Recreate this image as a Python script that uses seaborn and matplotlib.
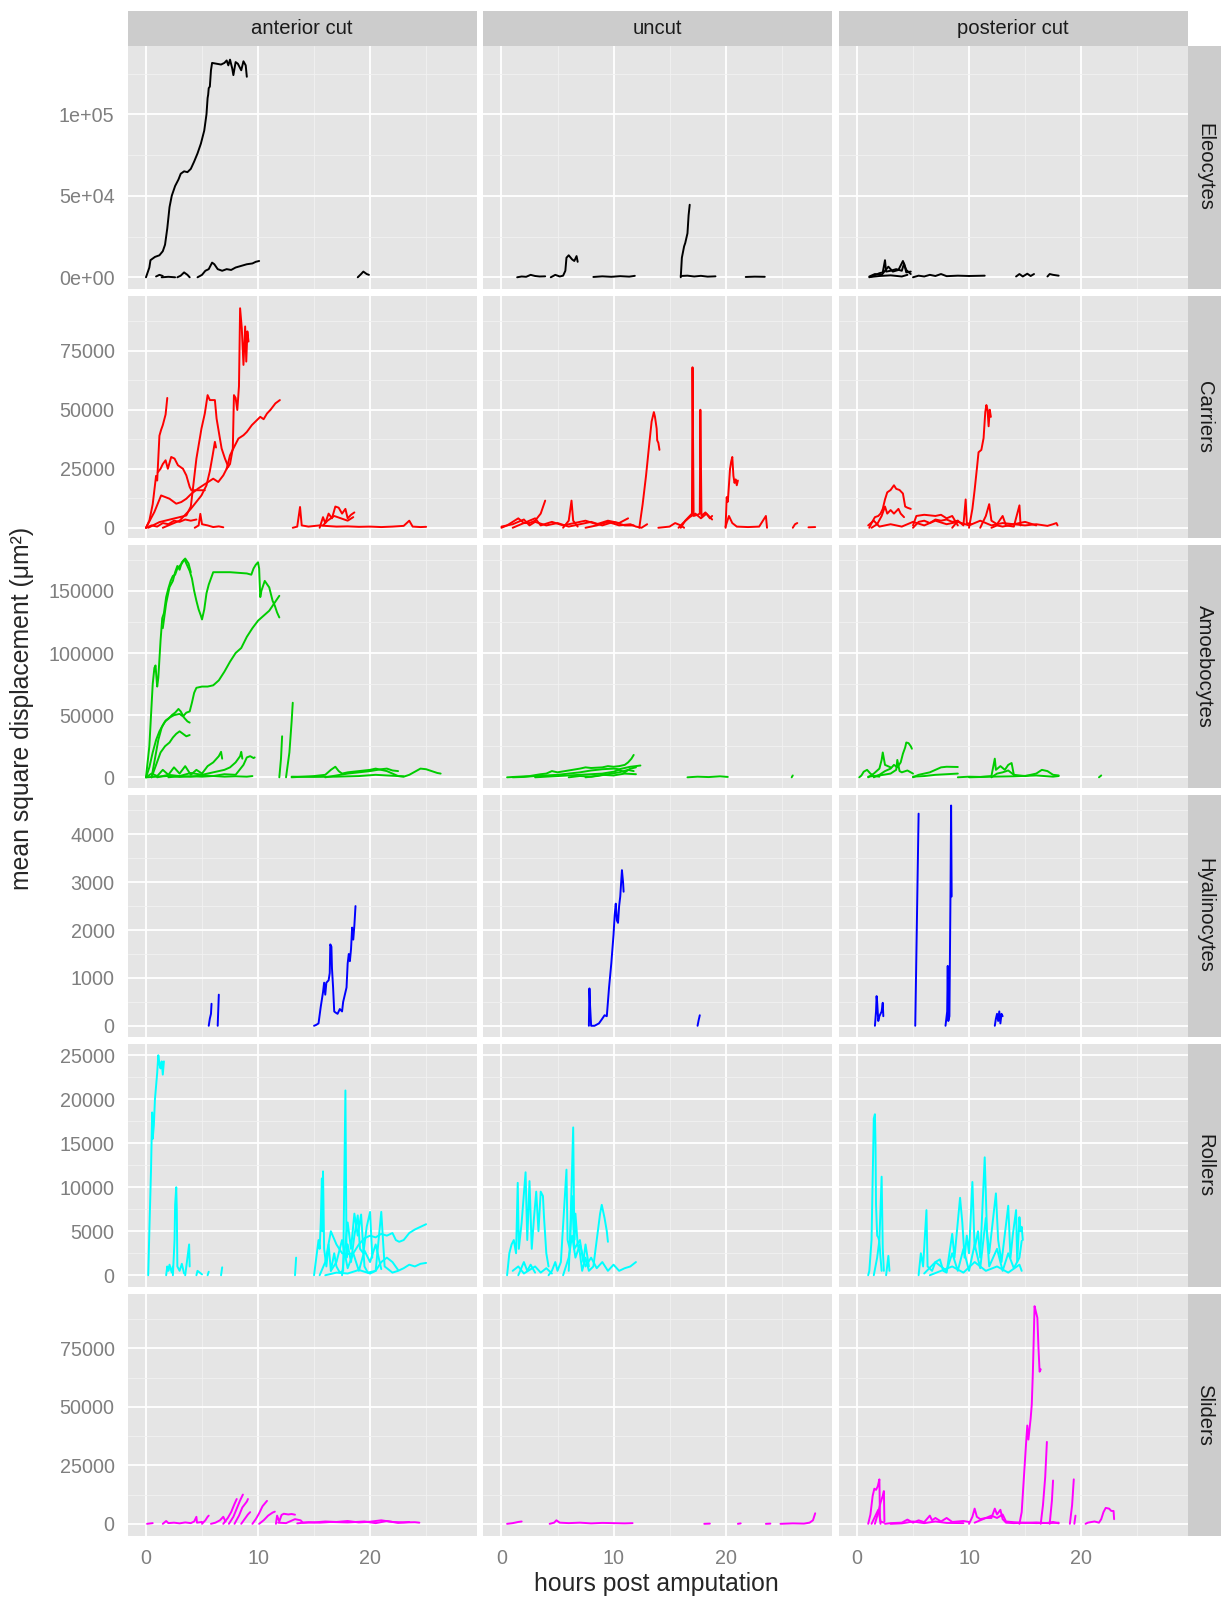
import pandas as pd
import matplotlib
matplotlib.use("Agg")
import matplotlib.pyplot as plt
import seaborn as sns

conditions = ["anterior cut", "uncut", "posterior cut"]
cell_types = ["Eleocytes", "Carriers", "Amoebocytes", "Hyalinocytes", "Rollers", "Sliders"]
line_colors = ["black", "red", "#00CD00", "blue", "cyan", "magenta"]

x_ticks = [0, 10, 20]
x_minor = [5, 15, 25]
x_limits = (-1.65, 29.5)

y_ticks = [
    [0, 50000, 100000],
    [0, 25000, 50000, 75000],
    [0, 50000, 100000, 150000],
    [0, 1000, 2000, 3000, 4000],
    [0, 5000, 10000, 15000, 20000, 25000],
    [0, 25000, 50000, 75000],
]
y_tick_labels = [
    ["0e+00", "5e+04", "1e+05"],
    ["0", "25000", "50000", "75000"],
    ["0", "50000", "100000", "150000"],
    ["0", "1000", "2000", "3000", "4000"],
    ["0", "5000", "10000", "15000", "20000", "25000"],
    ["0", "25000", "50000", "75000"],
]
y_limits = [
    (-6875, 141875),
    (-4335, 98410),
    (-8197, 186885),
    (-234, 4830),
    (-1279, 26279),
    (-5202, 98410),
]

# ---- tracks: lists of (hours, msd) per panel ----
eleo_anterior = [
    [(0, 0), (0.3, 6000), (0.4, 10500), (0.8, 12500), (1.2, 13500), (1.5, 16000), (1.7, 20000),
     (1.9, 30000), (2.1, 43000), (2.3, 50000), (2.6, 56000), (2.9, 60000), (3.1, 63500), (3.4, 65000),
     (3.7, 64500), (4.0, 66500), (4.3, 71000), (4.6, 76000), (4.9, 82000), (5.2, 90000), (5.4, 100000),
     (5.5, 110000), (5.55, 112000), (5.6, 116000), (5.7, 117000), (5.8, 127000), (5.9, 131500),
     (6.3, 131000), (6.7, 130500), (7.0, 131500), (7.2, 133000), (7.35, 130000), (7.5, 133500),
     (7.7, 128000), (7.8, 124000), (8.0, 132000), (8.2, 131000), (8.5, 127000), (8.7, 132500),
     (8.9, 130000), (9.0, 123000)],
    [(4.6, 0), (5.0, 1500), (5.3, 4000), (5.6, 5000), (5.9, 9000), (6.1, 8000), (6.4, 5000), (6.8, 4000),
     (7.2, 5000), (7.6, 4500), (8.0, 6000), (8.5, 7000), (9.0, 8000), (9.5, 8500), (9.8, 9500), (10.1, 10000)],
    [(0.9, 500), (1.2, 1500), (1.5, 800)],
    [(2.8, 0), (3.1, 1000), (3.4, 3000), (3.7, 1500), (3.9, 0)],
    [(1.4, 0), (2.0, 300), (2.6, 0)],
    [(18.9, 0), (19.2, 2000), (19.4, 3500), (19.7, 2000), (19.9, 1500)],
]
eleo_uncut = [
    [(1.4, 0), (1.8, 500), (2.2, 300), (2.6, 1500), (3.0, 800), (3.4, 500), (3.9, 600)],
    [(4.4, 0), (4.8, 1500), (5.2, 500), (5.5, 1000), (5.7, 4000), (5.8, 12000), (6.0, 13500), (6.3, 11000),
     (6.5, 10000), (6.7, 13000), (6.8, 9500)],
    [(8.2, 200), (9.0, 600), (9.8, 300), (10.6, 700), (11.4, 400), (11.9, 900)],
    [(16.0, 0), (16.1, 12000), (16.3, 19000), (16.4, 21000), (16.6, 27000), (16.7, 38000), (16.8, 44500)],
    [(16.0, 800), (16.6, 1000), (17.2, 500), (17.8, 900), (18.4, 400), (19.1, 600)],
    [(21.8, 200), (22.6, 400), (23.5, 300)],
]
eleo_posterior = [
    [(1.1, 0), (1.5, 1000), (2.0, 2500), (2.3, 3000), (2.5, 10500), (2.6, 3500), (3.0, 4000), (3.5, 5000),
     (4.0, 4000), (4.2, 8500), (4.4, 3000), (4.8, 3500)],
    [(1.1, 500), (1.6, 2000), (2.2, 1500), (2.8, 6500), (3.2, 3500), (3.7, 4500), (4.1, 10000), (4.4, 4500),
     (4.8, 2000)],
    [(1.2, 200), (2.0, 800), (3.0, 1200), (4.0, 500), (4.5, 1500)],
    [(5.0, 0), (5.5, 1000), (6.0, 500), (6.5, 1500), (7.0, 800), (7.5, 2000), (8.0, 700), (9.0, 1000),
     (10.0, 800), (11.4, 1000)],
    [(14.2, 500), (14.5, 2000), (14.8, 500), (15.2, 2200), (15.5, 800), (15.8, 2000)],
    [(17.0, 500), (17.2, 2000), (17.5, 1500), (18.0, 1000)],
]

carr_anterior = [
    [(0, 0), (0.3, 3000), (0.6, 10000), (0.9, 22000), (1.0, 20000), (1.2, 39000), (1.35, 41500),
     (1.5, 43500), (1.75, 48000), (1.9, 55000)],
    [(1.05, 23500), (1.3, 25000), (1.5, 27000), (1.75, 28600), (1.95, 25000), (2.25, 30000), (2.55, 29300),
     (2.85, 26500), (3.3, 25000), (3.6, 22200), (3.9, 17300), (4.05, 15900), (4.6, 15900), (5.25, 15900)],
    [(0, 0), (0.75, 6700), (1.35, 13700), (2.1, 12300), (2.7, 10200), (3.15, 10900), (3.6, 12300),
     (4.05, 14400), (4.65, 16600), (5.1, 18000), (5.55, 19400), (6.0, 20800), (6.45, 19400), (6.9, 22200),
     (7.2, 25000), (7.5, 30700), (7.8, 33600), (8.25, 37800), (8.7, 39200), (9.0, 40600), (9.45, 43500),
     (9.75, 44900), (10.2, 47000), (10.5, 46000), (10.8, 48400), (11.1, 49900), (11.55, 52700),
     (11.95, 54100)],
    [(0.2, 0), (1.2, 2400), (2.4, 3800), (3.6, 5200), (4.0, 9000), (4.2, 17000), (4.5, 29300),
     (4.95, 42000), (5.25, 48400), (5.5, 56200), (5.7, 54100), (6.15, 54100), (6.3, 46300), (6.55, 39200),
     (6.75, 33600), (7.05, 29300), (7.35, 25800)],
    [(1.5, 0), (3.0, 3000), (4.0, 8000), (4.95, 13700), (5.4, 18000), (5.7, 24000), (5.95, 30700),
     (6.15, 36400), (6.25, 34000)],
    [(7.2, 25000), (7.5, 27000), (7.75, 33600), (7.85, 56200), (8.0, 55000), (8.15, 49900), (8.3, 60000),
     (8.4, 93000), (8.55, 84600), (8.7, 69000), (8.85, 85300), (8.95, 70400), (9.05, 83200), (9.15, 78900)],
    [(0, 0), (0.5, 1000), (1.0, 500), (1.5, 2000), (2.0, 1500), (2.5, 3000), (3.0, 2500), (3.5, 3500),
     (4.0, 3000), (4.5, 3500)],
    [(4.35, 0), (4.7, 1000), (4.85, 5900), (5.0, 1500), (5.5, 1000), (6.0, 300), (6.5, 600), (6.9, 200)],
    [(13.1, 0), (13.5, 500), (13.75, 8800), (13.9, 1000), (14.5, 500), (15.5, 1000), (16.0, 800), (17.0, 500),
     (18.0, 600), (19.0, 400), (20.0, 500), (21.0, 300), (22.0, 500), (23.0, 800), (23.5, 3000), (23.8, 500),
     (24.5, 300), (25.0, 400)],
    [(15.5, 0), (15.8, 4500), (16.0, 2000), (16.3, 6000), (16.6, 4000), (16.9, 9000), (17.2, 8500),
     (17.5, 6000), (17.8, 8000), (18.0, 4000), (18.3, 5500), (18.6, 6500)],
    [(15.8, 1000), (16.2, 3000), (16.8, 5000), (17.4, 4000), (18.0, 3000), (18.5, 4500)],
]
carr_uncut = [
    [(0, 0), (0.5, 1000), (1.0, 2500), (1.5, 4000), (2.0, 2000), (2.5, 2000), (3.0, 3000), (3.5, 6000),
     (3.9, 11500)],
    [(5.5, 0), (6.0, 3000), (6.25, 11500), (6.4, 3000), (6.8, 500)],
    [(0, 500), (1, 1500), (2, 3500), (2.5, 1000), (3, 2500), (4, 1000), (5, 2000), (6, 500), (7, 1500),
     (8, 2500), (9, 1000), (10, 2500), (11, 1000), (11.8, 1000)],
    [(1, 0), (2, 2000), (3, 4000), (3.5, 1000), (4.5, 2500), (5.5, 1000), (6.5, 2000), (7.5, 3000),
     (8.5, 1500), (9.5, 3000), (10.5, 2000), (11.3, 4000)],
    [(7.5, 0), (8.5, 1000), (9.5, 2500), (10.5, 1000), (11.5, 1500), (12.0, 500), (12.5, 0), (13.0, 1500)],
    [(12.3, 0), (12.6, 10000), (12.9, 22000), (13.2, 36000), (13.4, 45000), (13.6, 49000), (13.7, 47000),
     (13.85, 42000), (13.9, 37000), (14.0, 36000), (14.1, 33000)],
    [(14.0, 0), (15.0, 500), (15.5, 2000), (16.0, 1000), (16.3, 0)],
    [(16.0, 0), (16.4, 3000), (16.8, 5000), (17.0, 6000), (17.05, 68000), (17.15, 5000), (17.5, 5500),
     (17.7, 6000), (17.75, 50000), (17.85, 5000), (18.2, 6500), (18.6, 4000), (18.8, 5000)],
    [(15.8, 0), (16.2, 2000), (16.8, 4500), (17.3, 6000), (17.8, 4000), (18.3, 6000), (18.8, 3500)],
    [(20.0, 0), (20.1, 13000), (20.2, 11000), (20.4, 25000), (20.5, 28000), (20.6, 30000), (20.7, 22000),
     (20.8, 19000), (20.9, 20500), (21.0, 18000), (21.1, 20000)],
    [(20.0, 500), (20.3, 5000), (20.6, 2000), (21.0, 500), (22.0, 300), (23.0, 500), (23.6, 5000),
     (23.7, 0)],
    [(26.0, 0), (26.2, 1500), (26.4, 2000)],
    [(27.4, 200), (28.0, 300)],
]
carr_posterior = [
    [(1.1, 0), (1.3, 2000), (1.6, 4500), (1.9, 5000), (2.1, 6000), (2.3, 8000), (2.5, 12000), (2.7, 15000),
     (3.0, 16000), (3.3, 18000), (3.5, 16500), (3.8, 16000), (4.1, 14500), (4.3, 9000), (4.5, 8500),
     (4.8, 8000)],
    [(1.3, 0), (1.8, 1500), (2.2, 5000), (2.5, 9000), (2.7, 6000), (3.0, 7500), (3.3, 6000), (3.7, 8000),
     (3.9, 6000), (4.2, 4500)],
    [(1.0, 1000), (1.5, 3000), (2, 500), (3, 1500), (4, 500), (5, 2500), (6, 1000), (7, 3000), (8, 1500),
     (9, 2500), (10, 1000), (11, 3000), (12, 1000), (13, 2000), (14, 1500), (15, 2500), (16, 1000)],
    [(5.0, 1000), (5.3, 5000), (6, 5500), (7, 5000), (7.5, 5500), (8, 4000), (8.5, 5000), (9, 1000)],
    [(5.0, 0), (5.5, 2500), (6.0, 3000), (6.5, 2000), (7.0, 3500), (7.5, 3000), (8.0, 3500), (8.5, 2500),
     (9.0, 3000)],
    [(8.5, 0), (9.0, 3000), (9.5, 1000), (9.7, 12000), (9.8, 2000), (10.2, 1500)],
    [(10.0, 0), (10.3, 8000), (10.5, 16000), (10.7, 25000), (10.85, 32000), (11.1, 33000), (11.3, 38000),
     (11.45, 49000), (11.55, 52000), (11.65, 50000), (11.75, 43000), (11.85, 50000), (11.95, 47000)],
    [(11.0, 0), (11.5, 5000), (11.8, 10000), (12.0, 3000), (12.5, 1500), (13.0, 5000), (13.3, 1000),
     (14.0, 500), (14.5, 9500), (14.6, 1000)],
    [(12.0, 0), (12.5, 1000), (13, 500), (14, 1500), (15, 1000), (16, 1500), (17, 800), (17.5, 1500),
     (17.8, 2000), (17.9, 1000)],
]

amoe_anterior = [
    [(0, 0), (0.3, 25000), (0.6, 75000), (0.75, 88000), (0.85, 90000), (1.0, 73000), (1.1, 80000),
     (1.3, 110000), (1.45, 128000), (1.6, 132000), (1.8, 145000), (2.0, 152000), (2.2, 158000),
     (2.4, 162000), (2.6, 163000), (2.8, 168000), (3.0, 170000), (3.2, 172000), (3.4, 175000),
     (3.5, 174000), (3.7, 170000), (3.9, 166000), (4.1, 160000), (4.3, 150000), (4.5, 142000),
     (4.7, 135000), (4.9, 130000), (5.0, 127000), (5.2, 135000), (5.4, 148000), (5.6, 155000),
     (5.8, 160000), (6.0, 165000), (7.5, 165000), (9.0, 164000), (9.4, 163000), (9.6, 168000),
     (9.8, 171000), (10.0, 173000), (10.1, 168000), (10.2, 145000), (10.3, 150000), (10.6, 158000),
     (11.0, 152800), (11.3, 142000), (11.5, 138000), (11.7, 132600), (11.9, 128600)],
    [(1.5, 120000), (1.8, 140000), (2.1, 153000), (2.4, 158000), (2.6, 165000), (2.8, 170000),
     (3.0, 167000), (3.2, 173000), (3.5, 176000), (3.8, 172000), (4.0, 165000)],
    [(0, 0), (0.3, 8000), (0.6, 20000), (0.9, 30000), (1.2, 37000), (1.5, 42000), (1.8, 46000),
     (2.1, 48000), (2.5, 50000), (3.0, 51000), (3.3, 49000), (3.6, 52000), (3.9, 53000), (4.1, 60000),
     (4.3, 68000), (4.5, 72000), (5.0, 73000), (5.5, 73000), (6.0, 74000), (6.5, 78000), (7.0, 85000),
     (7.5, 93000), (8.0, 100000), (8.5, 104000), (9.0, 113000), (9.5, 120000), (10.0, 126000),
     (10.5, 130000), (11.0, 134000), (11.3, 138000), (11.6, 142000), (11.9, 146000)],
    [(0.5, 0), (0.8, 15000), (1.1, 30000), (1.4, 40000), (1.7, 45000), (2.0, 47000), (2.3, 50000),
     (2.6, 52000), (2.9, 55000), (3.1, 53000), (3.4, 48000), (3.7, 45000), (3.9, 44000)],
    [(0.5, 0), (0.9, 10000), (1.3, 20000), (1.7, 25000), (2.1, 28000), (2.4, 32000), (2.7, 35000),
     (3.0, 37000), (3.3, 35000), (3.6, 33000), (3.9, 34000)],
    [(0, 0), (0.5, 3000), (1, 1000), (1.5, 6000), (2, 2000), (2.5, 8000), (3, 3000), (3.5, 9000), (4, 2000),
     (4.5, 6000), (5, 3000), (5.5, 9000), (6, 12000), (6.5, 17000), (6.7, 20500), (6.8, 15000)],
    [(1, 0), (2, 2000), (3, 1000), (4, 3500), (5, 2000), (6, 4000), (7, 6000), (7.5, 8000), (8, 12000),
     (8.4, 17000), (8.5, 20500), (8.6, 15000)],
    [(2, 0), (3, 1000), (4, 500), (5, 1500), (6, 1000), (7, 2500), (8, 2000), (8.7, 10000), (9.0, 16000),
     (9.3, 17000), (9.6, 15500), (9.7, 16000)],
    [(0, 0), (1, 500), (2, 1000), (3, 300), (4, 800), (5, 500), (6, 1000), (7, 500), (8, 800), (9, 500),
     (9.5, 1000)],
    [(11.9, 0), (12.05, 15000), (12.15, 33000)],
    [(12.5, 0), (12.8, 20000), (13.0, 45000), (13.1, 60000)],
    [(13.0, 0), (14.0, 500), (15.0, 1000), (16.0, 2000), (16.5, 6000), (16.9, 8500), (17.2, 5000),
     (17.5, 3000), (18, 4000), (19, 5000), (20, 6000), (20.5, 7000), (21, 6000), (21.5, 5000), (22, 3000),
     (22.5, 1000), (23, 500), (23.5, 2000), (24, 4500), (24.5, 7000), (25, 6500), (25.5, 5000),
     (26, 3500), (26.3, 3000)],
    [(16.0, 0), (17, 1500), (18, 3000), (19, 4000), (20, 5000), (21, 6500), (21.5, 7000), (22, 5500),
     (22.5, 5000)],
    [(13.0, 500), (15, 300), (17, 500), (19, 1000), (20.5, 2000), (21.5, 1500), (23, 800)],
]
amoe_uncut = [
    [(0.5, 0), (1.5, 500), (2.5, 1000), (3.5, 2500), (4.0, 3000), (4.5, 5000), (5.0, 4000), (6.0, 5500),
     (7.0, 7000), (7.5, 8000), (8.0, 7500), (9.0, 8000), (9.5, 9000), (10.0, 8500), (10.5, 9000),
     (11.0, 10000), (11.3, 12000), (11.6, 15000), (11.8, 18000)],
    [(1.0, 0), (2.0, 300), (3.0, 1000), (4.0, 1500), (5.0, 2000), (6.0, 3000), (7.0, 4000), (8.0, 5500),
     (9.0, 6500), (10.0, 7000), (10.5, 6500), (11.0, 7500), (11.5, 8500), (12.0, 9000), (12.4, 9500)],
    [(3.0, 0), (4.0, 500), (5.0, 1000), (6.0, 1500), (7.0, 2000), (8.0, 2500), (9.0, 3000), (10.0, 4500),
     (10.5, 6000), (11.0, 4000), (11.5, 7000), (12.0, 8000)],
    [(6.0, 0), (7, 1000), (8, 500), (9, 2000), (10, 1500), (11, 3000), (12, 2500)],
    [(7.5, 0), (8.5, 1000), (9.5, 2500), (10.5, 4000), (11.3, 6000), (11.8, 5000)],
    [(16.6, 0), (17.5, 500), (18.5, 200), (19.5, 800), (20.2, 300)],
    [(25.9, 0), (26.0, 1500)],
]
amoe_posterior = [
    [(0.2, 0), (0.4, 1500), (0.6, 4500), (0.9, 6000), (1.2, 3000), (1.5, 1000), (2.0, 500)],
    [(1.0, 0), (1.5, 3000), (2.0, 7000), (2.2, 14000), (2.3, 20000), (2.5, 10000), (3.0, 8000)],
    [(1.5, 0), (2.0, 2000), (2.5, 5000), (3.0, 7000), (3.3, 10000), (3.6, 8000), (3.9, 12000),
     (4.1, 19000), (4.3, 24000), (4.4, 28000), (4.6, 27500), (4.8, 25000), (4.9, 23000)],
    [(1.0, 500), (2.0, 1500), (3.0, 3000), (3.5, 6000), (3.6, 14000), (3.8, 5000), (4.0, 4000),
     (4.5, 5500), (5.0, 3000)],
    [(5.0, 0), (5.5, 2000), (6.0, 3000), (6.5, 4000), (7.0, 6000), (7.5, 8000), (8.0, 8500), (9.0, 8300)],
    [(5.0, 500), (6.0, 1000), (7.0, 2000), (8.0, 2500), (9.0, 3000)],
    [(9.0, 0), (10, 500), (11, 300), (12, 1000), (12.3, 15000), (12.4, 6000), (12.8, 9000), (13.2, 6000),
     (13.5, 10000), (13.8, 11500), (14.0, 2000)],
    [(12.0, 0), (12.5, 3000), (13, 4000), (13.5, 5500), (14, 2000), (15, 1000), (16, 3000), (16.5, 6000),
     (17, 5000), (17.5, 2000), (18, 1500)],
    [(10, 0), (12, 500), (14, 800), (16, 1500), (17.5, 500), (18, 1000)],
    [(21.6, 0), (21.8, 1500)],
]

hyal_anterior = [
    [(5.6, 0), (5.7, 150), (5.8, 250), (5.85, 460)],
    [(6.4, 0), (6.5, 650)],
    [(15.0, 0), (15.2, 20), (15.4, 50), (15.6, 400), (15.8, 700), (15.9, 900), (16.0, 650), (16.1, 900),
     (16.3, 950), (16.4, 1100), (16.45, 1700), (16.55, 1650), (16.6, 1200), (16.7, 800), (16.8, 300),
     (16.9, 280), (17.1, 250), (17.3, 350), (17.5, 300), (17.6, 500), (17.8, 700), (17.9, 800),
     (18.0, 1300), (18.1, 1500), (18.2, 1350), (18.3, 1600), (18.4, 2050), (18.5, 1800), (18.6, 2100),
     (18.7, 2500)],
]
hyal_uncut = [
    [(7.8, 0), (7.85, 780), (7.9, 450), (8.0, 0), (8.3, 0), (8.7, 50), (9.0, 150), (9.2, 220), (9.4, 200),
     (9.6, 800), (9.8, 1300), (10.0, 1900), (10.1, 2300), (10.2, 2550), (10.3, 2200), (10.4, 2150),
     (10.5, 2500), (10.6, 2700), (10.75, 3250), (10.85, 3000), (10.9, 2800)],
    [(17.5, 0), (17.6, 120), (17.7, 220)],
]
hyal_posterior = [
    [(1.6, 0), (1.7, 300), (1.75, 620), (1.8, 500), (1.9, 100), (2.0, 200), (2.2, 300), (2.3, 480),
     (2.35, 200)],
    [(5.2, 0), (5.5, 4430)],
    [(7.9, 0), (8.05, 300), (8.1, 1250), (8.15, 100), (8.25, 200), (8.35, 2900), (8.4, 4600), (8.45, 2700)],
    [(12.3, 0), (12.4, 150), (12.5, 250), (12.6, 100), (12.7, 300), (12.8, 50), (12.9, 250), (13.0, 200)],
]

roll_anterior = [
    [(0.2, 0), (0.3, 5000), (0.45, 12000), (0.55, 18500), (0.6, 15500), (0.7, 17000), (0.8, 20000),
     (0.9, 21500), (1.0, 23000), (1.1, 25000), (1.2, 24000), (1.3, 23500), (1.4, 24300), (1.5, 22800),
     (1.6, 24300)],
    [(1.8, 0), (1.9, 1000), (2.0, 500), (2.1, 1200), (2.3, 300), (2.4, 1000)],
    [(2.4, 0), (2.55, 4000), (2.6, 8000), (2.7, 10000), (2.75, 7500), (2.8, 1000), (3.0, 500), (3.2, 1300),
     (3.4, 200)],
    [(3.5, 0), (3.7, 2000), (3.85, 3500), (3.9, 1000)],
    [(4.5, 0), (4.6, 500), (4.8, 300), (5.0, 100)],
    [(5.5, 0), (5.6, 400)],
    [(6.7, 0), (6.8, 900)],
    [(13.3, 0), (13.4, 2000)],
    [(15.0, 0), (15.2, 2000), (15.4, 4000), (15.5, 3000), (15.6, 6000), (15.7, 11000), (15.75, 5000),
     (15.8, 11800), (15.9, 3000), (16.1, 1000), (16.3, 3500), (16.5, 500), (16.8, 2500), (17.0, 1000),
     (17.3, 300), (17.6, 500), (17.8, 21000), (17.9, 2000), (18.0, 3500), (18.3, 1500), (18.6, 4500),
     (18.9, 6800), (19.1, 3000), (19.4, 2500), (19.7, 5500), (20.0, 7200), (20.2, 2000)],
    [(15.5, 0), (16.0, 1500), (16.5, 5000), (17.0, 3500), (17.5, 2500), (18, 2400), (18.5, 2500),
     (19, 3500), (19.5, 4200), (20, 4500), (20.5, 4300), (21.0, 4700), (21.5, 4500), (22, 4800),
     (22.3, 4000), (22.6, 3800), (23, 4000), (23.5, 4800), (24, 5200), (24.5, 5500), (25.0, 5800)],
    [(16.0, 0), (17, 300), (18, 200), (19, 600), (20, 200), (20.5, 500), (21.0, 7200), (21.3, 1000),
     (22, 300), (22.5, 500), (23, 800), (23.5, 1200), (24, 1000), (24.5, 1300), (25, 1400)],
    [(17.5, 0), (18, 6000), (18.3, 3000), (18.6, 7000), (18.9, 4500), (19.2, 6900), (19.5, 1000),
     (19.8, 300), (20.5, 500), (21, 1500), (21.5, 2000), (22.0, 1500), (22.5, 600)],
    [(16.5, 500), (17, 1500), (17.5, 4000), (18, 800), (18.5, 2500), (19, 500), (19.5, 2800), (20, 1500),
     (20.5, 3500), (21, 700)],
]
roll_uncut = [
    [(0.5, 0), (0.7, 2500), (0.9, 3500), (1.1, 4000), (1.3, 2500), (1.45, 10500), (1.55, 3000),
     (1.8, 6000), (2.15, 11700), (2.3, 4000), (2.5, 10700), (2.7, 3000), (2.9, 6500), (3.1, 9500),
     (3.3, 5000), (3.5, 9500), (3.7, 9000), (3.8, 6500), (4.0, 2500), (4.2, 1000)],
    [(1.5, 0), (2.0, 1500), (2.3, 500), (2.6, 1200), (3.0, 300)],
    [(4.2, 0), (4.5, 500), (4.8, 1500), (5.0, 500), (5.3, 1500), (5.8, 12000), (5.9, 4000), (6.1, 3000),
     (6.4, 16800), (6.5, 4000), (6.6, 7000), (6.8, 3500), (7.0, 2500), (7.2, 500), (7.5, 2000), (7.8, 500),
     (8.2, 1000), (8.5, 4000), (8.8, 7000), (8.95, 8000), (9.2, 6500), (9.4, 5000), (9.5, 3800)],
    [(5.5, 0), (6, 2000), (6.3, 4500), (6.6, 2000), (7, 3500), (7.5, 1000), (8, 2000), (8.5, 800),
     (9, 1500), (9.5, 500), (10, 1200), (10.5, 500), (11, 800), (11.5, 1000), (12, 1500)],
    [(1.0, 500), (1.5, 1000), (2, 200), (3, 1000), (3.5, 300), (4, 800), (4.5, 200)],
    [(6.0, 500), (6.3, 9000), (6.5, 3000), (7, 4000), (7.3, 1500), (7.5, 3500), (7.8, 1000)],
]
roll_posterior = [
    [(1.0, 0), (1.1, 500), (1.3, 4000), (1.4, 11000), (1.5, 17800), (1.6, 18300), (1.65, 15000),
     (1.7, 8000), (1.8, 4500), (1.9, 4300), (2.0, 3800), (2.1, 2000), (2.2, 500)],
    [(1.5, 0), (1.8, 2000), (2.0, 4000), (2.2, 11200), (2.3, 3000), (2.4, 500)],
    [(2.6, 0), (2.8, 2200), (2.9, 500)],
    [(5.5, 0), (5.7, 2500), (5.9, 1000), (6.2, 7400), (6.3, 1000), (6.7, 500), (7.0, 1500), (7.4, 1800),
     (7.7, 500), (8.0, 300), (8.5, 4700), (8.7, 2000), (9.2, 8800), (9.4, 6000), (9.6, 2000), (9.8, 4500),
     (10.0, 2500), (10.3, 10600), (10.5, 3000), (10.8, 5000), (11.0, 2000), (11.4, 13400), (11.6, 5000),
     (11.8, 2500), (12.4, 9300), (12.6, 4000), (12.9, 1500), (13.5, 7900), (13.7, 2000), (13.9, 4500),
     (14.2, 7400), (14.3, 1500), (14.5, 6600), (14.6, 5000), (14.7, 5500), (14.8, 4000)],
    [(6.0, 200), (7.0, 1500), (8.0, 500), (8.5, 2500), (9.0, 500), (9.5, 3000), (10.0, 500), (10.5, 3500),
     (11.0, 800), (11.5, 6500), (11.8, 1000), (12.5, 3000), (13.0, 500), (13.5, 2500), (14.0, 800),
     (14.5, 2000), (14.7, 3900)],
    [(6.5, 0), (7.5, 500), (8.5, 1000), (9.5, 300), (10.5, 1500), (11.5, 500), (12.5, 1000), (13.5, 300),
     (14.5, 1200), (14.7, 500)],
]

slid_anterior = [
    [(0.1, 0), (0.6, 300)],
    [(1.5, 0), (1.8, 1200), (2.0, 300), (2.5, 500), (3.0, 200), (3.5, 600), (4.0, 300), (4.3, 1000),
     (4.5, 3000), (4.55, 500), (5.0, 800)],
    [(5.0, 0), (5.3, 1500), (5.5, 3000), (5.6, 3500)],
    [(5.8, 0), (6.2, 500), (6.6, 1500), (6.9, 3000), (7.1, 1000)],
    [(6.9, 0), (7.3, 2500), (7.6, 5000), (7.9, 8500), (8.1, 10600)],
    [(7.4, 0), (7.8, 3000), (8.1, 6500), (8.4, 10000), (8.65, 12500)],
    [(7.9, 0), (8.3, 3500), (8.6, 7000), (9.0, 9500), (9.1, 10600)],
    [(8.5, 0), (8.8, 2000), (9.1, 4000), (9.3, 5000)],
    [(9.5, 0), (9.8, 2000), (10.1, 4500), (10.4, 7500), (10.8, 9800)],
    [(10.1, 0), (10.5, 1500), (10.9, 3500), (11.3, 4800), (11.5, 5200)],
    [(11.6, 0), (11.7, 3500), (11.9, 1000), (12.1, 3800), (12.3, 4300), (12.7, 4000), (13.0, 4200),
     (13.3, 3900)],
    [(11.8, 500), (12.5, 300), (13.3, 2000), (13.8, 1500), (14.0, 500), (15, 600), (16, 1000), (17, 800),
     (18, 1200), (19, 600), (20, 900), (21, 1500), (22, 800), (23, 600), (24, 700), (24.4, 500)],
    [(13.5, 200), (14.5, 700), (15.5, 500), (16.5, 800), (18, 600), (19.5, 1000), (20.5, 300),
     (21.5, 1200), (22.5, 400), (23.5, 800)],
]
slid_uncut = [
    [(0.5, 0), (1.0, 300), (1.5, 800), (1.8, 1000)],
    [(4.3, 0), (4.7, 500), (4.9, 1500), (5.2, 500), (6, 300), (7, 500), (8, 200), (9, 400), (10, 300),
     (11, 200), (11.7, 300)],
    [(18.1, 0), (18.6, 100)],
    [(21.1, 0), (21.35, 200)],
    [(23.6, 0), (24.0, 100)],
    [(24.9, 0), (26, 200), (27, 100), (27.5, 500), (27.8, 1500), (28.0, 4500)],
]
slid_posterior = [
    [(1.0, 0), (1.2, 4000), (1.4, 12000), (1.55, 15000), (1.7, 14500), (1.85, 16000), (2.0, 19000),
     (2.05, 3000), (2.1, 0)],
    [(1.6, 0), (1.9, 5000), (2.1, 9000), (2.3, 12000), (2.4, 14000), (2.45, 1000)],
    [(1.3, 0), (1.6, 3000), (1.9, 6000), (2.1, 1000), (2.4, 500)],
    [(2.5, 0), (3, 300), (4, 500), (4.5, 1800), (5, 500), (5.5, 1500), (6, 700), (6.5, 3500), (6.7, 1500),
     (7.0, 2500), (7.5, 1000), (8, 2500), (8.5, 800), (9, 1000), (9.5, 1200), (10, 800)],
    [(3.0, 0), (4.0, 200), (5.0, 1000), (6.0, 300), (7.0, 1000), (8.0, 400), (9.5, 300)],
    [(10.0, 0), (10.3, 3000), (10.5, 6500), (10.7, 3000), (11, 2000), (11.5, 2500), (12, 2500),
     (12.3, 6500), (12.5, 4000), (12.8, 6000), (13.0, 2000), (13.3, 500), (14, 300), (15, 500), (16, 300),
     (17, 400), (17.5, 800), (18, 200)],
    [(10.5, 500), (11, 1500), (12, 3500), (12.5, 2500), (13, 4000), (13.3, 1000), (14, 700), (15, 400),
     (16, 600), (17, 300), (18, 500)],
    [(14.5, 0), (14.7, 5000), (14.9, 20000), (15.1, 35000), (15.2, 42000), (15.3, 36000), (15.5, 45000),
     (15.6, 51000), (15.7, 65000), (15.85, 93000), (16.0, 90000), (16.1, 88000), (16.2, 75000),
     (16.3, 65000), (16.4, 66000)],
    [(16.4, 0), (16.6, 8000), (16.8, 20000), (16.95, 35000)],
    [(17.2, 0), (17.4, 10000), (17.5, 18500)],
    [(19.0, 0), (19.2, 8000), (19.35, 19000)],
    [(19.4, 0), (19.5, 3500)],
    [(20.4, 0), (20.6, 500), (21.2, 1000), (21.6, 500), (21.8, 2000), (22.0, 5000), (22.2, 6800),
     (22.5, 6500), (22.7, 5500), (22.9, 5500), (22.95, 2000)],
]

panels = {
    ("Eleocytes", "anterior cut"): eleo_anterior,
    ("Eleocytes", "uncut"): eleo_uncut,
    ("Eleocytes", "posterior cut"): eleo_posterior,
    ("Carriers", "anterior cut"): carr_anterior,
    ("Carriers", "uncut"): carr_uncut,
    ("Carriers", "posterior cut"): carr_posterior,
    ("Amoebocytes", "anterior cut"): amoe_anterior,
    ("Amoebocytes", "uncut"): amoe_uncut,
    ("Amoebocytes", "posterior cut"): amoe_posterior,
    ("Hyalinocytes", "anterior cut"): hyal_anterior,
    ("Hyalinocytes", "uncut"): hyal_uncut,
    ("Hyalinocytes", "posterior cut"): hyal_posterior,
    ("Rollers", "anterior cut"): roll_anterior,
    ("Rollers", "uncut"): roll_uncut,
    ("Rollers", "posterior cut"): roll_posterior,
    ("Sliders", "anterior cut"): slid_anterior,
    ("Sliders", "uncut"): slid_uncut,
    ("Sliders", "posterior cut"): slid_posterior,
}

records = []
for (cell, cond), track_list in panels.items():
    for i, track in enumerate(track_list):
        for h, v in track:
            records.append((cell, cond, f"{cell}|{cond}|{i}", h, v))
df = pd.DataFrame(records, columns=["cell", "condition", "track", "hours", "msd"])

# ---- style (old ggplot2 grey theme) ----
sns.set_style("darkgrid")
plt.rcParams["font.family"] = ["Liberation Sans", "DejaVu Sans"]

W, H = 1221, 1599
fig = plt.figure(figsize=(W / 100, H / 100), dpi=100)

col_left = [127.5, 483.0, 838.5]
panel_w = 349.0
row_top = [46.0 + 249.5 * i for i in range(6)]
panel_h = 242.5
grey50 = "#7F7F7F"


def fig_rect(x0, y0, w, h):
    return [x0 / W, 1 - (y0 + h) / H, w / W, h / H]


def strip(rect, label, rotation=0):
    sax = fig.add_axes(fig_rect(*rect))
    sax.set_facecolor("#CCCCCC")
    sax.set_xticks([])
    sax.set_yticks([])
    for s in sax.spines.values():
        s.set_visible(False)
    sax.text(0.5, 0.5, label, ha="center", va="center", rotation=rotation,
             fontsize=14.6, color="#1A1A1A", transform=sax.transAxes)


for r, cell in enumerate(cell_types):
    lo, hi = y_limits[r]
    step = y_ticks[r][1] - y_ticks[r][0]
    y_minor = [t + step / 2 for t in range(int(y_ticks[r][0]) - int(step), int(hi) + 1, int(step))
               if lo < t + step / 2 < hi]
    for c, cond in enumerate(conditions):
        ax = fig.add_axes(fig_rect(col_left[c], row_top[r], panel_w, panel_h))
        ax.set_facecolor("#E5E5E5")
        ax.set_axisbelow(True)
        sub = df[(df["cell"] == cell) & (df["condition"] == cond)]
        sns.lineplot(data=sub, x="hours", y="msd", units="track", estimator=None, sort=False,
                     color=line_colors[r], lw=1.4, legend=False, ax=ax)
        ax.set_xlim(*x_limits)
        ax.set_ylim(lo, hi)
        ax.set_xticks(x_ticks)
        ax.set_xticks(x_minor, minor=True)
        ax.set_yticks(y_ticks[r])
        ax.set_yticks(y_minor, minor=True)
        ax.grid(which="major", color="white", lw=1.3)
        ax.grid(which="minor", color="#F2F2F2", lw=0.6)
        for s in ax.spines.values():
            s.set_visible(False)
        ax.set_xlabel("")
        ax.set_ylabel("")
        ax.tick_params(which="minor", length=0)
        ax.tick_params(which="major", length=5.8, width=1.1, color=grey50, labelcolor=grey50,
                       labelsize=14.2, pad=3.5)
        if c == 0:
            ax.set_yticklabels(y_tick_labels[r])
        else:
            ax.tick_params(axis="y", length=0, labelleft=False)
        if r == len(cell_types) - 1:
            ax.set_xticklabels([str(t) for t in x_ticks])
        else:
            ax.tick_params(axis="x", length=0, labelbottom=False)
        if r == 0:
            strip((col_left[c], 10.5, panel_w, 35.5), cond)
    strip((1188.0, row_top[r], W - 1188.0, panel_h), cell, rotation=-90)

fig.text(656 / W, 1 - 1584 / H, "hours post amputation", ha="center", va="center", fontsize=17.8)
fig.text(22 / W, 1 - 708 / H, "mean square displacement (μm²)", ha="center", va="center",
         rotation=90, fontsize=17.8)

fig.savefig("out.png", dpi=100, facecolor="white")
